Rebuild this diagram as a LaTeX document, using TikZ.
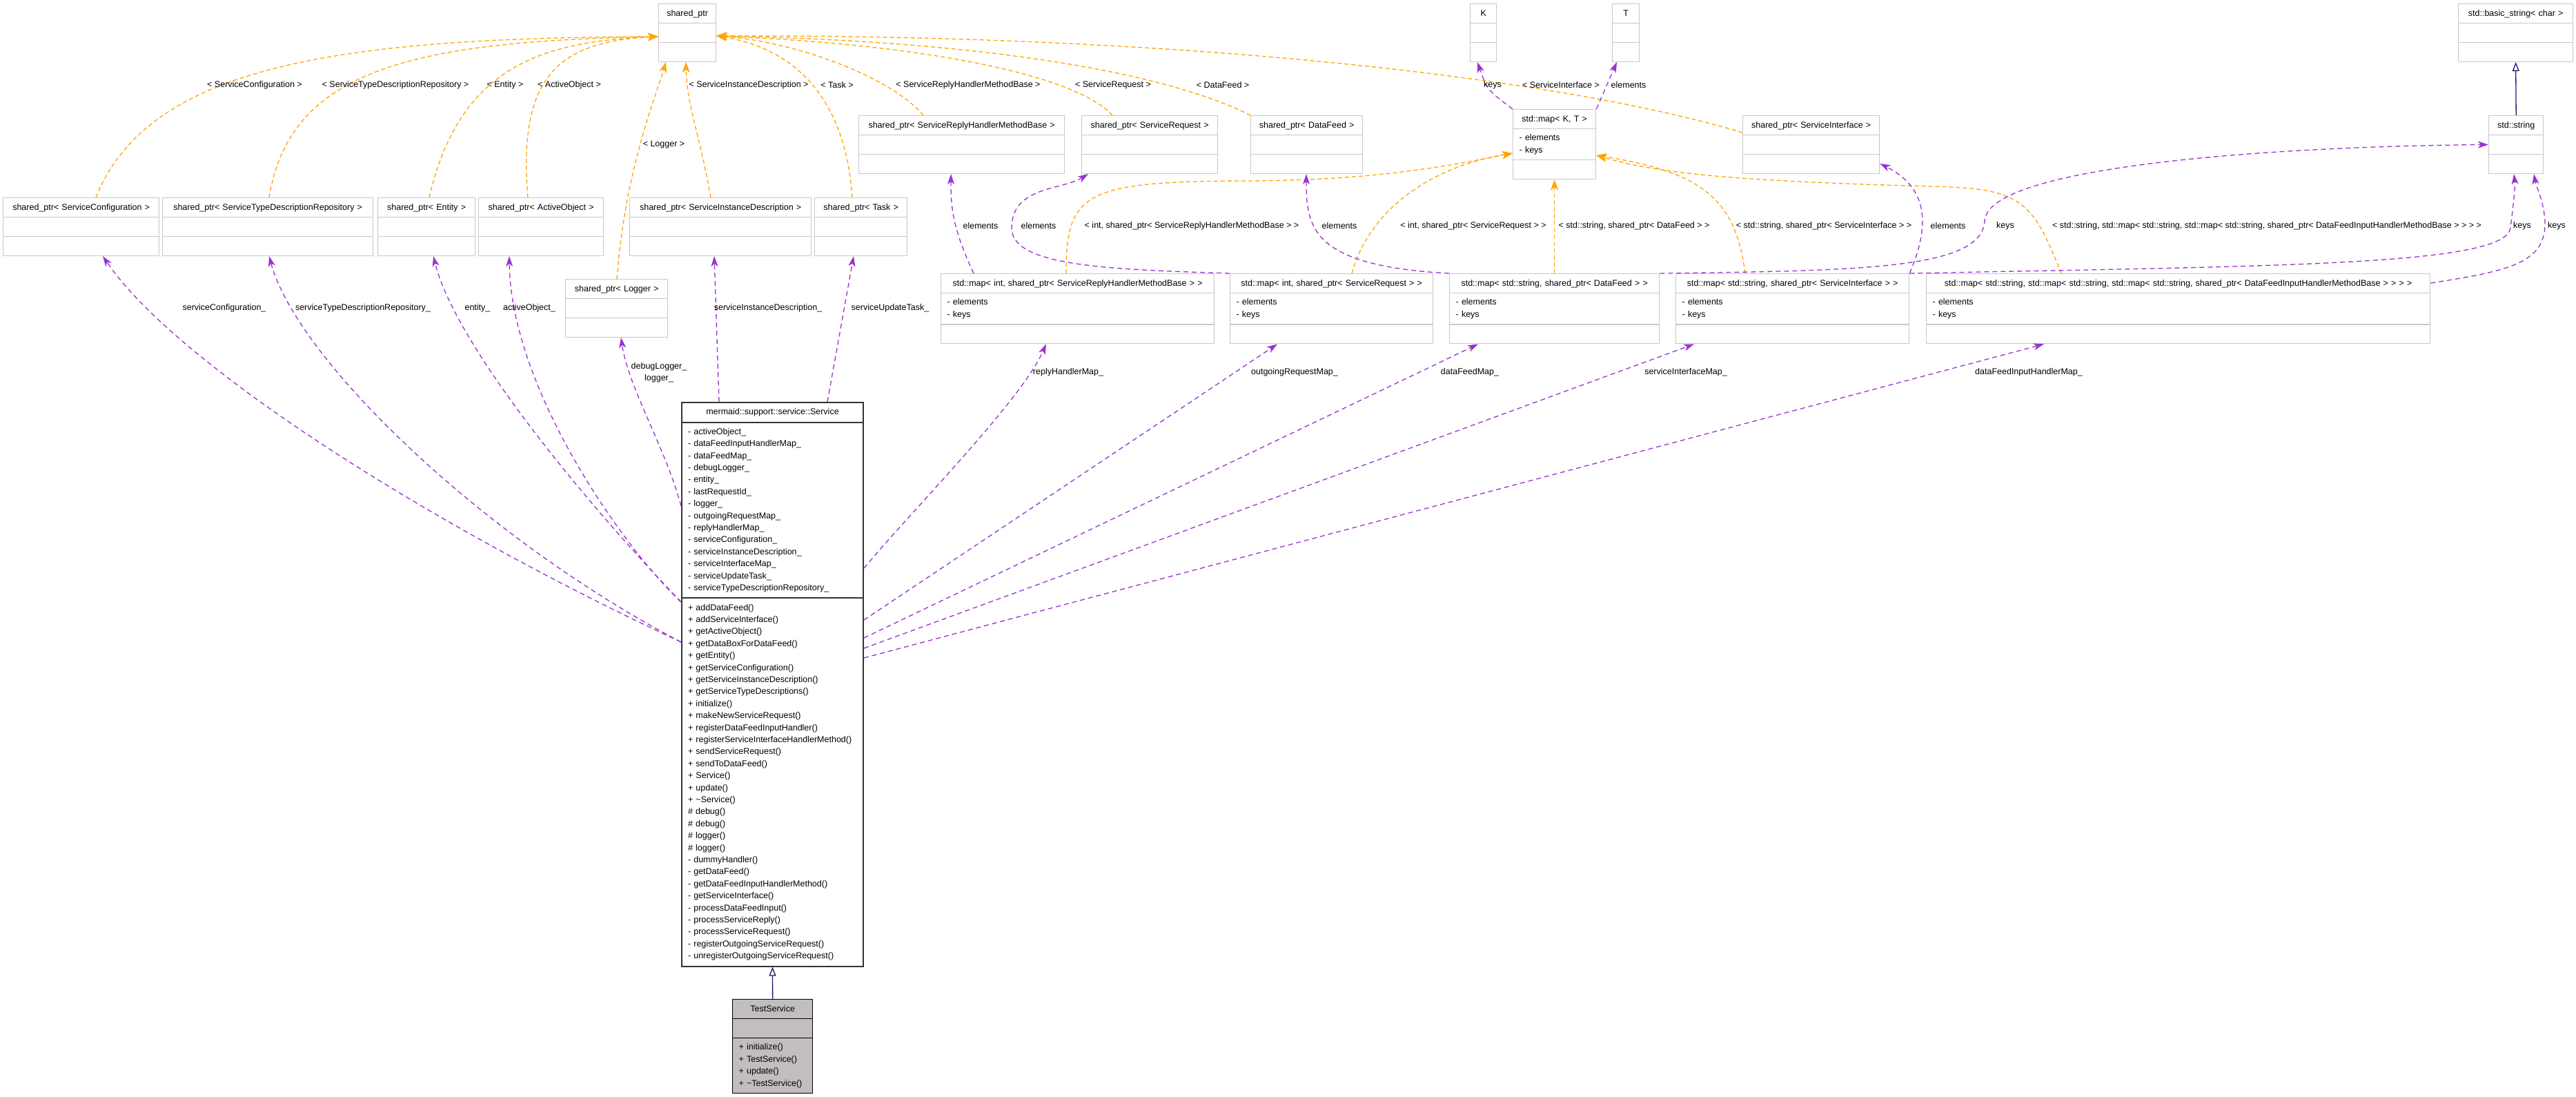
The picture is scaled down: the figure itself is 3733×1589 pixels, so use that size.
\documentclass[tikz,border=0pt]{standalone}
\usepackage{fontspec}
\setmainfont{Liberation Sans}
\usetikzlibrary{shapes.multipart,arrows.meta}
\definecolor{myorange}{RGB}{255,165,0}
\definecolor{mypurple}{RGB}{154,50,205}
\definecolor{myblue}{RGB}{25,25,112}
\definecolor{mygrey}{RGB}{200,200,200}
\definecolor{mycur}{RGB}{194,190,189}

\begin{document}
\begin{tikzpicture}[x=1pt, y=-1pt,
  cls/.style={rectangle split, rectangle split parts=3, draw=mygrey, line width=1.3pt, fill=white,
    anchor=north west, inner xsep=9pt, inner ysep=4.6pt, align=left, font=\fontsize{12.5}{17.4}\selectfont},
  maincls/.style={cls, draw=black!80, line width=2pt},
  curcls/.style={cls, draw=black, fill=mycur},
  lbl/.style={inner sep=0pt, align=center, font=\fontsize{12.5}{17.4}\selectfont},
  tmpl/.style={draw=myorange, line width=1.3pt, dash pattern=on 6pt off 4pt, -{Stealth[length=15pt,width=11pt,inset=4pt]}},
  uses/.style={draw=mypurple, line width=1.3pt, dash pattern=on 7pt off 5pt, -{Stealth[length=15pt,width=10pt,inset=4pt]}},
  inh/.style={draw=myblue, line width=1.3pt, -{Triangle[open,length=13pt,width=10pt,fill=white]}}]

\useasboundingbox (0,0) rectangle (3733,1589);
\fill[white] (0,0) rectangle (3733,1589);

\node[cls, text width=65pt] (shPtr) at (954,5) {\strut\hfill shared\_ptr\hfill\null\nodepart{second}\strut\nodepart{third}\strut};
\node[cls, text width=208pt] (spConfig) at (4,286) {\strut\hfill shared\_ptr< ServiceConfiguration >\hfill\null\nodepart{second}\strut\nodepart{third}\strut};
\node[cls, text width=287pt] (spTypeRepo) at (235,286) {\strut\hfill shared\_ptr< ServiceTypeDescriptionRepository >\hfill\null\nodepart{second}\strut\nodepart{third}\strut};
\node[cls, text width=123pt] (spEntity) at (547,286) {\strut\hfill shared\_ptr< Entity >\hfill\null\nodepart{second}\strut\nodepart{third}\strut};
\node[cls, text width=163pt] (spActive) at (693,286) {\strut\hfill shared\_ptr< ActiveObject >\hfill\null\nodepart{second}\strut\nodepart{third}\strut};
\node[cls, text width=245pt] (spInstance) at (912,286) {\strut\hfill shared\_ptr< ServiceInstanceDescription >\hfill\null\nodepart{second}\strut\nodepart{third}\strut};
\node[cls, text width=116pt] (spTask) at (1180,286) {\strut\hfill shared\_ptr< Task >\hfill\null\nodepart{second}\strut\nodepart{third}\strut};
\node[cls, text width=130pt] (spLogger) at (819,404) {\strut\hfill shared\_ptr< Logger >\hfill\null\nodepart{second}\strut\nodepart{third}\strut};
\node[cls, text width=280pt] (spReply) at (1244,167) {\strut\hfill shared\_ptr< ServiceReplyHandlerMethodBase >\hfill\null\nodepart{second}\strut\nodepart{third}\strut};
\node[cls, text width=179pt] (spRequest) at (1567,167) {\strut\hfill shared\_ptr< ServiceRequest >\hfill\null\nodepart{second}\strut\nodepart{third}\strut};
\node[cls, text width=144pt] (spDataFeed) at (1812,167) {\strut\hfill shared\_ptr< DataFeed >\hfill\null\nodepart{second}\strut\nodepart{third}\strut};
\node[cls, text width=20pt] (tK) at (2130,5) {\strut\hfill K\hfill\null\nodepart{second}\strut\nodepart{third}\strut};
\node[cls, text width=21pt] (tT) at (2336,5) {\strut\hfill T\hfill\null\nodepart{second}\strut\nodepart{third}\strut};
\node[cls, text width=102pt] (mapKT) at (2192,158) {\strut\hfill std::map< K, T >\hfill\null\nodepart{second}\strut- elements\\- keys\strut\nodepart{third}\strut};
\node[cls, text width=180pt] (spInterface) at (2525,167) {\strut\hfill shared\_ptr< ServiceInterface >\hfill\null\nodepart{second}\strut\nodepart{third}\strut};
\node[cls, text width=148pt] (basicStr) at (3562,5) {\strut\hfill std::basic\_string< char >\hfill\null\nodepart{second}\strut\nodepart{third}\strut};
\node[cls, text width=61pt] (stdStr) at (3606,167) {\strut\hfill std::string\hfill\null\nodepart{second}\strut\nodepart{third}\strut};
\node[cls, text width=378pt] (mapReply) at (1363,396) {\strut\hfill std::map< int, shared\_ptr< ServiceReplyHandlerMethodBase > >\hfill\null\nodepart{second}\strut- elements\\- keys\strut\nodepart{third}\strut};
\node[cls, text width=276pt] (mapRequest) at (1782,396) {\strut\hfill std::map< int, shared\_ptr< ServiceRequest > >\hfill\null\nodepart{second}\strut- elements\\- keys\strut\nodepart{third}\strut};
\node[cls, text width=286pt] (mapDataFeed) at (2100,396) {\strut\hfill std::map< std::string, shared\_ptr< DataFeed > >\hfill\null\nodepart{second}\strut- elements\\- keys\strut\nodepart{third}\strut};
\node[cls, text width=320pt] (mapInterface) at (2428,396) {\strut\hfill std::map< std::string, shared\_ptr< ServiceInterface > >\hfill\null\nodepart{second}\strut- elements\\- keys\strut\nodepart{third}\strut};
\node[cls, text width=712pt] (mapInput) at (2791,396) {\strut\hfill std::map< std::string, std::map< std::string, std::map< std::string, shared\_ptr< DataFeedInputHandlerMethodBase > > > >\hfill\null\nodepart{second}\strut- elements\\- keys\strut\nodepart{third}\strut};

\node[maincls, text width=245pt] (service) at (987,582) {\strut\hfill mermaid::support::service::Service\hfill\null
  \nodepart{second}\strut- activeObject\_\\- dataFeedInputHandlerMap\_\\- dataFeedMap\_\\- debugLogger\_\\- entity\_\\- lastRequestId\_\\- logger\_\\- outgoingRequestMap\_\\- replyHandlerMap\_\\- serviceConfiguration\_\\- serviceInstanceDescription\_\\- serviceInterfaceMap\_\\- serviceUpdateTask\_\\- serviceTypeDescriptionRepository\_\strut
  \nodepart{third}\strut+ addDataFeed()\\+ addServiceInterface()\\+ getActiveObject()\\+ getDataBoxForDataFeed()\\+ getEntity()\\+ getServiceConfiguration()\\+ getServiceInstanceDescription()\\+ getServiceTypeDescriptions()\\+ initialize()\\+ makeNewServiceRequest()\\+ registerDataFeedInputHandler()\\+ registerServiceInterfaceHandlerMethod()\\+ sendServiceRequest()\\+ sendToDataFeed()\\+ Service()\\+ update()\\+ \textasciitilde{}Service()\\\# debug()\\\# debug()\\\# logger()\\\# logger()\\- dummyHandler()\\- getDataFeed()\\- getDataFeedInputHandlerMethod()\\- getServiceInterface()\\- processDataFeedInput()\\- processServiceReply()\\- processServiceRequest()\\- registerOutgoingServiceRequest()\\- unregisterOutgoingServiceRequest()\strut};
\node[curcls, text width=98pt] (testSvc) at (1061,1447) {\strut\hfill TestService\hfill\null\nodepart{second}\strut
  \nodepart{third}\strut+ initialize()\\+ TestService()\\+ update()\\+ \textasciitilde{}TestService()\strut};

\draw[tmpl] (spConfig.north -| 139,0) .. controls (215,95) and (490,55) .. (shPtr.west |- 0,53);
\draw[tmpl] (spTypeRepo.north -| 390,0) .. controls (420,100) and (600,60) .. (shPtr.west |- 0,53);
\draw[tmpl] (spEntity.north -| 622,0) .. controls (665,100) and (780,60) .. (shPtr.west |- 0,53);
\draw[tmpl] (spActive.north -| 765,0) .. controls (750,110) and (810,60) .. (shPtr.west |- 0,53);
\draw[tmpl] (spLogger.north -| 894,0) .. controls (905,250) and (950,140) .. (shPtr.south -| 965,0);
\draw[tmpl] (spInstance.north -| 1030,0) .. controls (1015,200) and (995,150) .. (shPtr.south -| 994,0);
\draw[tmpl] (spTask.north -| 1235,0) .. controls (1225,140) and (1150,70) .. (shPtr.east |- 0,52);
\draw[tmpl] (spReply.north -| 1338,0) .. controls (1290,110) and (1150,60) .. (shPtr.east |- 0,52);
\draw[tmpl] (spRequest.north -| 1612,0) .. controls (1560,110) and (1350,65) .. (shPtr.east |- 0,52);
\draw[tmpl] (spDataFeed.north west) .. controls (1700,110) and (1450,60) .. (shPtr.east |- 0,52);
\draw[tmpl] (spInterface.west |- 0,192) .. controls (2250,110) and (1700,50) .. (shPtr.east |- 0,52);
\draw[tmpl] (mapReply.north -| 1545,0) .. controls (1545,280) and (1570,263) .. (1800,262) .. controls (1990,262) and (2100,240) .. (mapKT.west |- 0,222);
\draw[tmpl] (mapRequest.north -| 1959,0) .. controls (1985,300) and (2080,240) .. (mapKT.west |- 0,222);
\draw[tmpl] (mapDataFeed.north) -- (mapKT.south);
\draw[tmpl] (mapInterface.north -| 2529,0) .. controls (2515,290) and (2470,250) .. (mapKT.east |- 0,225);
\draw[tmpl] (mapInput.north -| 2987,0) .. controls (2945,290) and (2930,273) .. (2800,270) .. controls (2500,262) and (2400,250) .. (mapKT.east |- 0,225);

\draw[uses] (mapKT.north west) .. controls (2155,130) .. (tK.south -| 2141,0);
\draw[uses] (mapKT.north east) -- (tT.south -| 2343,0);
\draw[uses] (mapReply.north -| 1411,0) .. controls (1380,330) and (1378,300) .. (spReply.south -| 1378,0);
\draw[uses] (mapRequest.north west) .. controls (1600,390) and (1466,385) .. (1466,330) .. controls (1466,270) and (1540,275) .. (spRequest.south -| 1577,0);
\draw[uses] (mapDataFeed.north west) .. controls (1900,385) and (1893,330) .. (spDataFeed.south -| 1893,0);
\draw[uses] (mapInterface.north east) .. controls (2800,320) and (2790,270) .. (spInterface.east |- 0,237);
\draw[uses] (mapDataFeed.north east) .. controls (2700,392) and (2872,390) .. (2876,320) .. controls (2880,240) and (3300,212) .. (stdStr.west);
\draw[uses] (mapInterface.north east) .. controls (3300,385) and (3632,385) .. (3638,330) .. controls (3643,290) and (3645,270) .. (stdStr.south -| 3643,0);
\draw[uses] (mapInput.east |- 0,410) .. controls (3640,392) and (3690,380) .. (3688,320) .. controls (3686,290) and (3675,270) .. (stdStr.south -| 3672,0);
\draw[inh] (stdStr.north) -- (basicStr.south);

\draw[uses] (service.west |- 0,930) .. controls (600,750) and (250,520) .. (spConfig.south -| 149,0);
\draw[uses] (service.west |- 0,930) .. controls (700,780) and (430,520) .. (spTypeRepo.south -| 390,0);
\draw[uses] (service.west |- 0,872) .. controls (850,730) and (660,500) .. (spEntity.south -| 628,0);
\draw[uses] (service.west |- 0,872) .. controls (900,790) and (740,560) .. (spActive.south -| 738,0);
\draw[uses] (service.west |- 0,733) .. controls (965,650) and (910,560) .. (spLogger.south -| 900,0);
\draw[uses] (service.north -| 1042,0) -- (spInstance.south -| 1035,0);
\draw[uses] (service.north -| 1199,0) -- (spTask.south -| 1237,0);
\draw[uses] (service.east |- 0,823) .. controls (1330,730) and (1480,580) .. (mapReply.south -| 1516,0);
\draw[uses] (service.east |- 0,898) -- (mapRequest.south -| 1851,0);
\draw[uses] (service.east |- 0,924) -- (mapDataFeed.south -| 2142,0);
\draw[uses] (service.east |- 0,939) -- (mapInterface.south -| 2455,0);
\draw[uses] (service.east |- 0,953) -- (mapInput.south -| 2962,0);
\draw[inh] (testSvc.north) -- (service.south);

\node[lbl] (lConfig) at (369,123) {< ServiceConfiguration >};
\node[lbl] (lTypeRepo) at (573,123) {< ServiceTypeDescriptionRepository >};
\node[lbl] (lEntity) at (732,123) {< Entity >};
\node[lbl] (lActive) at (825,123) {< ActiveObject >};
\node[lbl] (lLogger) at (962,209) {< Logger >};
\node[lbl] (lInstance) at (1085,123) {< ServiceInstanceDescription >};
\node[lbl] (lTask) at (1213,123) {< Task >};
\node[lbl] (lReply) at (1403,123) {< ServiceReplyHandlerMethodBase >};
\node[lbl] (lRequest) at (1613,123) {< ServiceRequest >};
\node[lbl] (lDataFeed) at (1772,123) {< DataFeed >};
\node[lbl] (lKeysK) at (2163,123) {keys};
\node[lbl] (lInterface) at (2262,123) {< ServiceInterface >};
\node[lbl] (lElemT) at (2360,123) {elements};
\node[lbl] (lElemReply) at (1421,327) {elements};
\node[lbl] (lElemRequest) at (1505,327) {elements};
\node[lbl] (lMapReply) at (1727,327) {< int, shared\_ptr< ServiceReplyHandlerMethodBase > >};
\node[lbl] (lElemDataFeed) at (1941,327) {elements};
\node[lbl] (lMapRequest) at (2135,327) {< int, shared\_ptr< ServiceRequest > >};
\node[lbl] (lMapDataFeed) at (2368,327) {< std::string, shared\_ptr< DataFeed > >};
\node[lbl] (lMapInterface) at (2643,327) {< std::string, shared\_ptr< ServiceInterface > >};
\node[lbl] (lElemInterface) at (2823,327) {elements};
\node[lbl] (lKeysDataFeed) at (2906,327) {keys};
\node[lbl] (lMapInput) at (3285,327) {< std::string, std::map< std::string, std::map< std::string, shared\_ptr< DataFeedInputHandlerMethodBase > > > >};
\node[lbl] (lKeysInterface) at (3655,327) {keys};
\node[lbl] (lKeysInput) at (3705,327) {keys};
\node[lbl] (lUseConfig) at (325,446) {serviceConfiguration\_};
\node[lbl] (lUseTypeRepo) at (526,446) {serviceTypeDescriptionRepository\_};
\node[lbl] (lUseEntity) at (692,446) {entity\_};
\node[lbl] (lUseActive) at (767,446) {activeObject\_};
\node[lbl] (lUseInstance) at (1113,446) {serviceInstanceDescription\_};
\node[lbl] (lUseTask) at (1290,446) {serviceUpdateTask\_};
\node[lbl] (lUseLogger) at (955,540) {debugLogger\_\\logger\_};
\node[lbl] (lUseReply) at (1548,539) {replyHandlerMap\_};
\node[lbl] (lUseRequest) at (1876,539) {outgoingRequestMap\_};
\node[lbl] (lUseDataFeed) at (2130,539) {dataFeedMap\_};
\node[lbl] (lUseInterface) at (2443,539) {serviceInterfaceMap\_};
\node[lbl] (lUseInput) at (2940,539) {dataFeedInputHandlerMap\_};
\end{tikzpicture}
\end{document}
